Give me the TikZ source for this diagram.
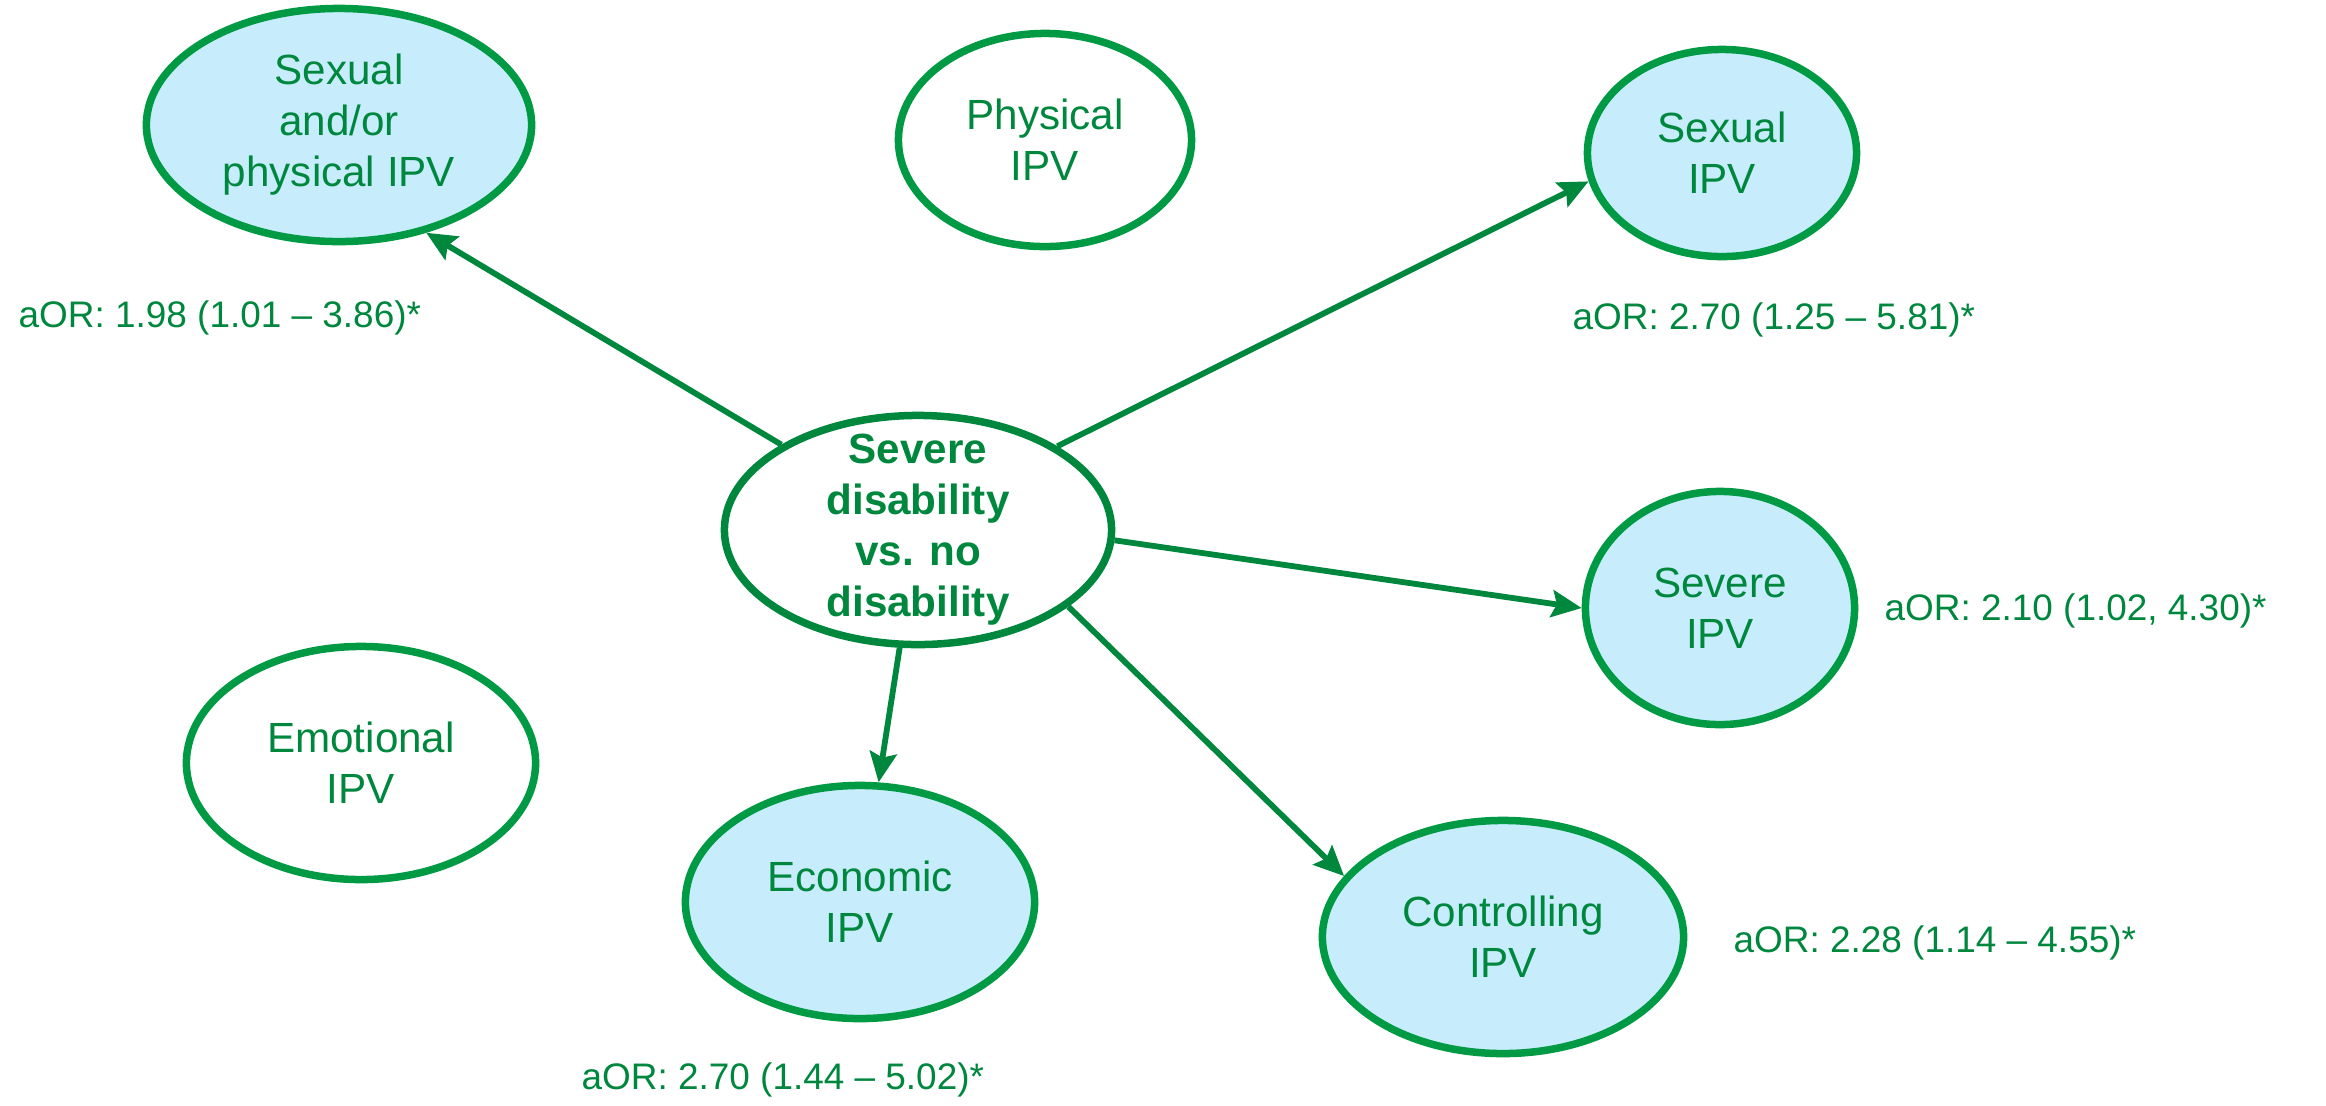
\documentclass[tikz,border=0pt]{standalone}
\usepackage{fontspec}
\setmainfont{Liberation Sans}
\usetikzlibrary{shapes.geometric, arrows.meta}

\definecolor{ringgreen}{RGB}{0,154,68}
\definecolor{textgreen}{RGB}{0,135,62}
\definecolor{sigblue}{RGB}{199,237,252}

\begin{document}
\begin{tikzpicture}[x=0.01cm, y=-0.01cm,
    bubble/.style={ellipse, draw=ringgreen, line width=0.075cm, inner sep=0pt,
        text=textgreen, align=center, font=\fontsize{12}{14.5}\selectfont},
    sig/.style={bubble, fill=sigblue},
    effect/.style={-{Stealth[length=0.3cm, width=0.27cm, inset=0.05cm]},
        draw=textgreen, line width=0.058cm},
    aor/.style={anchor=west, inner sep=0pt, text=textgreen,
        font=\fontsize{10.5}{12.5}\selectfont}]

    \useasboundingbox (0,0) rectangle (2326,1105);

    % ================= exposure =================
    \node[bubble, draw=textgreen, minimum width=3.87cm, minimum height=2.29cm,
        label={[text=textgreen, align=center,
            font=\bfseries\fontsize{12}{14.5}\selectfont]center:Severe\\disability\\vs. no\\disability}]
        (ctr) at (918,530) {};

    % ================= outcomes =================
    \node[sig, minimum width=3.85cm, minimum height=2.33cm] (sp) at (339,125) {Sexual\\and/or\\physical IPV};
    \node[bubble, minimum width=2.93cm, minimum height=2.13cm] (phys) at (1045,140) {Physical\\IPV};
    \node[sig, minimum width=2.69cm, minimum height=2.07cm] (sx) at (1722,153) {Sexual\\IPV};
    \node[sig, minimum width=2.69cm, minimum height=2.33cm] (sv) at (1720,608) {Severe\\IPV};
    \node[bubble, minimum width=3.49cm, minimum height=2.33cm] (emo) at (361,763) {Emotional\\IPV};
    \node[sig, minimum width=3.49cm, minimum height=2.33cm] (eco) at (860,902) {Economic\\IPV};
    \node[sig, minimum width=3.61cm, minimum height=2.33cm] (ctl) at (1503,937) {Controlling\\IPV};

    % ================= associations =================
    \draw[effect] (ctr.148) -- (sp.-51);
    \draw[effect] (ctr.31) -- (sx.-168);
    \draw[effect] (ctr.-3) -- (sv.180);
    \draw[effect] (ctr.-27) -- (ctl.159);
    \draw[effect] (ctr) -- (eco);

    % odds ratios
    \node[aor] (aorsp) at (18,318) {aOR: 1.98 (1.01 – 3.86)*};
    \node[aor] (aorsx) at (1572,320) {aOR: 2.70 (1.25 – 5.81)*};
    \node[aor] (aorsv) at (1884,611) {aOR: 2.10 (1.02, 4.30)*};
    \node[aor] (aorctl) at (1733,943) {aOR: 2.28 (1.14 – 4.55)*};
    \node[aor] (aoreco) at (581,1080) {aOR: 2.70 (1.44 – 5.02)*};

\end{tikzpicture}
\end{document}
